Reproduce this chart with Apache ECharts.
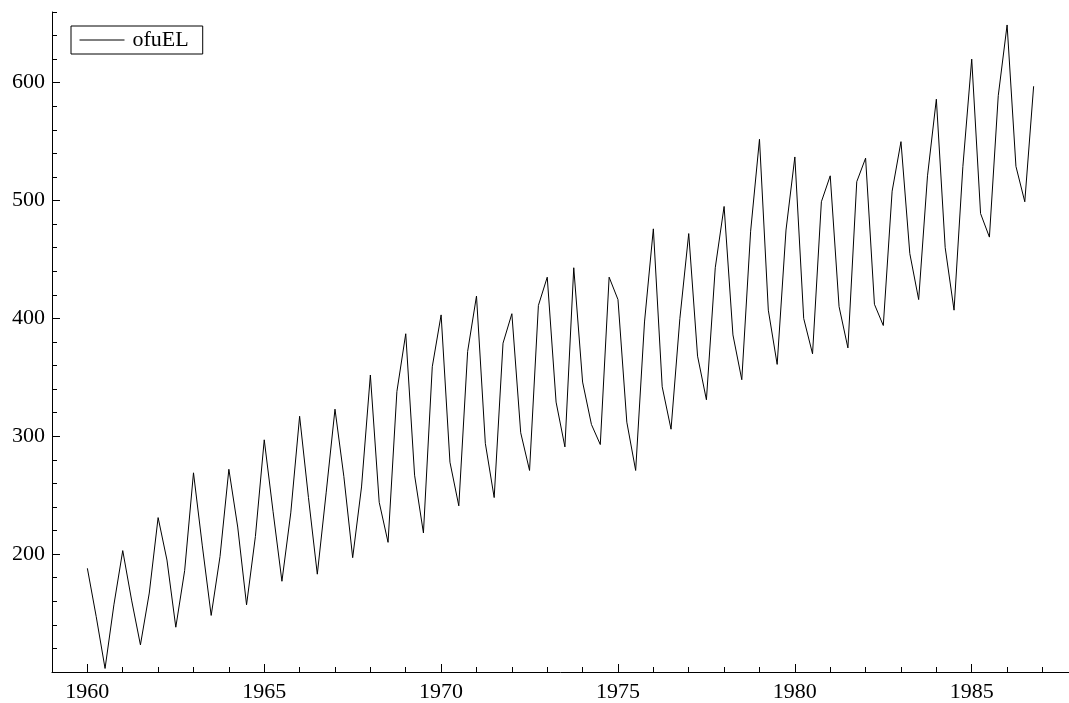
<!DOCTYPE html>
<html>
<head>
<meta charset="utf-8">
<script src="https://cdn.jsdelivr.net/npm/echarts@6/dist/echarts.min.js"></script>
<style>
	html, body { margin: 0; padding: 0; background: #fff; }
	#chart { width: 1069px; height: 703px; }
</style>
</head>
<body>
<div id="chart"></div>
<script>
// quarterly series, 1960 Q1 .. 1986 Q4
const seriesName = "ofuEL"
const startYear = 1960
const ofuEL = [
	188, 147, 103, 157, 203, 161, 123, 167, 231, 195, 138, 186,
	269, 207, 148, 198, 272, 223, 157, 215, 297, 236, 177, 235,
	317, 248, 183, 252, 323, 266, 197, 257, 352, 244, 210, 338,
	387, 267, 218, 359, 403, 278, 241, 372, 419, 294, 248, 379,
	404, 303, 271, 411, 435, 329, 291, 443, 346, 310, 293, 435,
	416, 312, 271, 397, 476, 342, 306, 400, 472, 368, 331, 443,
	495, 386, 348, 474, 552, 407, 361, 475, 537, 400, 370, 499,
	521, 410, 375, 516, 536, 412, 394, 508, 550, 455, 416, 521,
	586, 460, 407, 529, 620, 489, 469, 589, 649, 529, 499, 597,
]
const xTicks = [1960, 1965, 1970, 1975, 1980, 1985]
const yTicks = [200, 300, 400, 500, 600]

const font = "Liberation Serif"
const ink = "#000"

let chartDom = document.getElementById("chart")
let chart = echarts.init(chartDom)

let points = ofuEL.map((v, i) => [startYear + i / 4, v])

let option = {
	animation: false,
	backgroundColor: "#fff",
	grid: {
		left: 52,
		right: 0,
		top: 12,
		bottom: 31,
	},
	legend: {
		left: 71,
		top: 26,
		orient: "vertical",
		data: [seriesName],
		borderColor: ink,
		borderWidth: 1,
		borderRadius: 0,
		padding: [3, 14, 3, 8],
		itemWidth: 45,
		itemHeight: 14,
		itemStyle: { opacity: 0 },
		lineStyle: { color: ink, width: 1 },
		textStyle: { fontFamily: font, fontSize: 22, color: ink, padding: [0, 0, 0, 3] },
	},
	xAxis: [
		{
			type: "value",
			min: 1959,
			max: 1987.75,
			splitLine: { show: false },
			axisLine: { show: true, lineStyle: { color: ink, width: 1 } },
			axisTick: { show: true, inside: true, length: 8, lineStyle: { color: ink }, customValues: xTicks },
			axisLabel: {
				customValues: xTicks,
				formatter: (v) => String(v),
				margin: 9,
				fontFamily: font,
				fontSize: 22,
				color: ink,
			},
		},
		{
			// minor ticks, one a year
			type: "value",
			position: "bottom",
			min: 1959,
			max: 1987.75,
			interval: 1,
			splitLine: { show: false },
			axisLine: { show: false },
			axisTick: { show: true, inside: true, length: 5, lineStyle: { color: ink } },
			axisLabel: { show: false },
		},
	],
	yAxis: [
		{
			type: "value",
			min: 100,
			max: 660,
			splitLine: { show: false },
			axisLine: { show: true, lineStyle: { color: ink, width: 1 } },
			axisTick: { show: true, inside: true, length: 8, lineStyle: { color: ink }, customValues: yTicks },
			axisLabel: {
				customValues: yTicks,
				formatter: (v) => String(v),
				margin: 7,
				fontFamily: font,
				fontSize: 22,
				color: ink,
			},
		},
		{
			// minor ticks every 20
			type: "value",
			position: "left",
			min: 100,
			max: 660,
			interval: 20,
			splitLine: { show: false },
			axisLine: { show: false },
			axisTick: { show: true, inside: true, length: 5, lineStyle: { color: ink } },
			axisLabel: { show: false },
		},
	],
	series: [
		{
			name: seriesName,
			type: "line",
			xAxisIndex: 0,
			yAxisIndex: 0,
			data: points,
			symbol: "none",
			lineStyle: { color: ink, width: 1 },
			itemStyle: { color: ink },
		},
	],
}
chart.setOption(option)
</script>
</body>
</html>
